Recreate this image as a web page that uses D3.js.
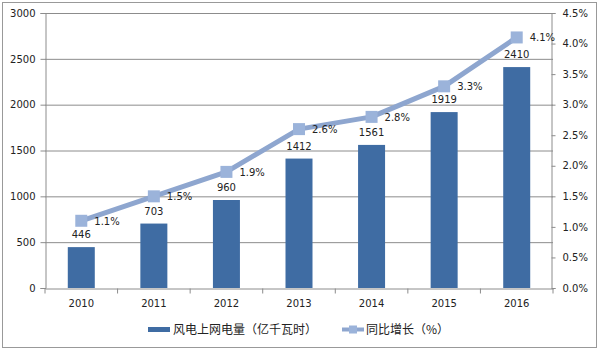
<!DOCTYPE html>
<html>
<head>
<meta charset="utf-8">
<script src="https://cdn.jsdelivr.net/npm/d3@7"></script>
<style>
  body { margin: 0; background: #fff; }
  text { font-family: "DejaVu Sans", "Noto Sans CJK SC", sans-serif; fill: #222; }
  .cjk { font-family: "Noto Sans CJK SC", sans-serif; }
</style>
</head>
<body>
<div id="chart"></div>
<script>
// chart data
const years = ["2010", "2011", "2012", "2013", "2014", "2015", "2016"];
const power = [446, 703, 960, 1412, 1561, 1919, 2410];
const growth = [1.1, 1.5, 1.9, 2.6, 2.8, 3.3, 4.1];
const leftTicks = [0, 500, 1000, 1500, 2000, 2500, 3000];
const rightTicks = [0, 0.5, 1, 1.5, 2, 2.5, 3, 3.5, 4, 4.5];
const barName = "风电上网电量（亿千瓦时）";
const lineName = "同比增长（%）";

const width = 599, height = 351;
const margin = { top: 13, right: 46, bottom: 63, left: 45 };
const plotW = width - margin.left - margin.right;
const plotH = height - margin.top - margin.bottom;

const barColor = "#3f6ca3";
const lineColor = "#8ea6cf";
const markColor = "#9bb3da";

const svg = d3.select("#chart").append("svg")
    .attr("width", width)
    .attr("height", height);

// outer frame
svg.append("rect")
    .attr("x", 2.5).attr("y", 2.5)
    .attr("width", width - 5).attr("height", height - 6)
    .attr("fill", "none")
    .attr("stroke", "#999");

const g = svg.append("g")
    .attr("transform", `translate(${margin.left},${margin.top})`);

const x = d3.scaleBand()
    .domain(years)
    .range([0, plotW]);

const y = d3.scaleLinear().domain([0, 3000]).range([plotH, 0]);
const y2 = d3.scaleLinear().domain([0, 4.5]).range([plotH, 0]);

// grid lines
g.append("g")
    .selectAll("line")
    .data(leftTicks.slice(1))
    .join("line")
    .attr("x1", 0).attr("x2", plotW)
    .attr("y1", d => y(d) + 0.5).attr("y2", d => y(d) + 0.5)
    .attr("stroke", "#8c8c8c");

// left axis
const yAxis = g.append("g")
    .attr("transform", "translate(0.5,0)")
    .call(d3.axisLeft(y).tickValues(leftTicks).tickSize(5).tickPadding(5)
        .tickFormat(d3.format("d")));
yAxis.selectAll("text").style("font-size", "10px").style("fill", "#222");

// right axis
const y2Axis = g.append("g")
    .attr("transform", `translate(${plotW - 1.5},0)`)
    .call(d3.axisRight(y2).tickValues(rightTicks).tickSize(4).tickPadding(7)
        .tickFormat(d => d.toFixed(1) + "%"));
y2Axis.selectAll("text").style("font-size", "10px").style("fill", "#222");

// bottom axis
const xAxis = g.append("g")
    .attr("transform", `translate(0,${plotH + 0.5})`)
    .call(d3.axisBottom(x).tickSize(0).tickPadding(11));
xAxis.selectAll("text").style("font-size", "10px").style("fill", "#222");
xAxis.selectAll(".tick")
    .append("line")
    .attr("x1", -x.bandwidth() / 2).attr("x2", -x.bandwidth() / 2)
    .attr("y1", 0).attr("y2", 5)
    .attr("stroke", "#8c8c8c");
xAxis.append("line")
    .attr("x1", plotW).attr("x2", plotW)
    .attr("y1", 0).attr("y2", 5)
    .attr("stroke", "#8c8c8c");

svg.selectAll(".domain, .tick line").attr("stroke", "#8c8c8c");

// bars
const barW = 27;
g.selectAll(".bar")
    .data(power)
    .join("rect")
    .attr("class", "bar")
    .attr("x", (d, i) => x(years[i]) + x.bandwidth() / 2 - barW / 2)
    .attr("y", d => y(d))
    .attr("width", barW)
    .attr("height", d => plotH - y(d))
    .attr("fill", barColor);

// bar labels
g.selectAll(".blabel")
    .data(power)
    .join("text")
    .attr("class", "blabel")
    .attr("x", (d, i) => x(years[i]) + x.bandwidth() / 2)
    .attr("y", d => y(d) - 9)
    .attr("text-anchor", "middle")
    .style("font-size", "10px")
    .text(d => d);

// growth line
const cx = i => x(years[i]) + x.bandwidth() / 2;
const line = d3.line()
    .x((d, i) => cx(i))
    .y(d => y2(d));

g.append("path")
    .datum(growth)
    .attr("fill", "none")
    .attr("stroke", lineColor)
    .attr("stroke-width", 5)
    .attr("stroke-linejoin", "round")
    .attr("d", line);

g.selectAll(".mark")
    .data(growth)
    .join("rect")
    .attr("class", "mark")
    .attr("x", (d, i) => cx(i) - 6)
    .attr("y", d => y2(d) - 6)
    .attr("width", 12)
    .attr("height", 12)
    .attr("fill", markColor);

g.selectAll(".plabel")
    .data(growth)
    .join("text")
    .attr("class", "plabel")
    .attr("x", (d, i) => cx(i) + 13)
    .attr("y", d => y2(d) + 4)
    .style("font-size", "10px")
    .text(d => d.toFixed(1) + "%");

// legend
const legend = svg.append("g").attr("transform", "translate(148,329)");
legend.append("rect")
    .attr("x", 0).attr("y", -2)
    .attr("width", 22).attr("height", 5)
    .attr("fill", barColor);
legend.append("text")
    .attr("class", "cjk")
    .attr("x", 25).attr("y", 5)
    .style("font-size", "12px")
    .text(barName);

const l2 = svg.append("g").attr("transform", "translate(342,329)");
l2.append("line")
    .attr("x1", 0).attr("x2", 22)
    .attr("y1", 0.5).attr("y2", 0.5)
    .attr("stroke", lineColor)
    .attr("stroke-width", 4);
l2.append("rect")
    .attr("x", 7).attr("y", -3.5)
    .attr("width", 8).attr("height", 8)
    .attr("fill", markColor);
l2.append("text")
    .attr("class", "cjk")
    .attr("x", 24).attr("y", 5)
    .style("font-size", "12px")
    .text(lineName);
</script>
</body>
</html>
